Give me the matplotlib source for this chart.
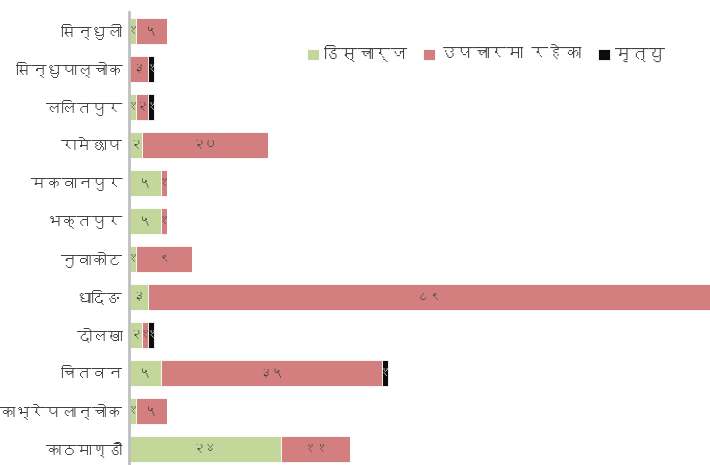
import matplotlib
matplotlib.use('Agg')
import matplotlib.pyplot as plt
from matplotlib import font_manager
from matplotlib.ft2font import FT2Font
import numpy as np

districts = ['सिन्धुली', 'सिन्धुपाल्चोक', 'ललितपुर', 'रामेछाप', 'मकवानपुर', 'भक्तपुर',
             'नुवाकोट', 'धादिङ', 'दोलखा', 'चितवन', 'काभ्रेपलान्चोक', 'काठमाण्डौ']
discharged = [1, 0, 1, 2, 5, 5, 1, 3, 2, 5, 1, 24]
in_treatment = [5, 3, 2, 20, 1, 1, 9, 89, 1, 35, 5, 11]
deaths = [0, 1, 1, 0, 0, 0, 0, 0, 1, 1, 0, 0]
series_names = ['डिस्चार्ज', 'उपचारमा रहेका', 'मृत्यु']
colors = ['#c4d79b', '#d47f7f', '#0d0d0d']
nepali_digits = '०१२३४५६७८९'


def to_nepali(n):
    return ''.join(nepali_digits[int(c)] for c in str(n))


# find an installed font that has Devanagari glyphs
deva = None
for f in font_manager.fontManager.ttflist:
    try:
        if 0x0915 in FT2Font(f.fname).get_charmap():
            deva = f.name
            break
    except Exception:
        pass
families = ([deva] if deva else []) + ['DejaVu Sans']
plt.rcParams['font.family'] = families

fig = plt.figure(figsize=(7.1, 4.65), dpi=100)
ax = fig.add_axes([0.182, 0.0, 0.818, 0.974])

y = np.arange(len(districts))
left = np.zeros(len(districts))
for vals, name, col in zip([discharged, in_treatment, deaths], series_names, colors):
    vals = np.array(vals)
    ax.barh(y, vals, left=left, height=0.68, color=col, edgecolor='white',
            linewidth=0.6, label=name)
    for yi, v, l in zip(y, vals, left):
        if v > 0:
            ax.text(l + v / 2, yi, to_nepali(v), ha='center', va='center', fontsize=9,
                    color='white' if col == '#0d0d0d' else '#404040')
    left = left + vals

ax.set_xlim(0, 92)
ax.set_ylim(11.42, -0.5)
ax.set_yticks(y)
ax.set_yticklabels(districts, fontsize=11, color='#404040')
ax.set_xticks([])
ax.tick_params(axis='y', length=0, pad=5)
for s in ['top', 'right', 'bottom']:
    ax.spines[s].set_visible(False)
ax.spines['left'].set_color('#bfbfbf')
ax.spines['left'].set_linewidth(2)

leg = ax.legend(loc='upper left', bbox_to_anchor=(0.28, 0.96), ncol=3, frameon=False,
                fontsize=12, handlelength=0.7, handleheight=0.7, handletextpad=0.3,
                columnspacing=1.0)
for t in leg.get_texts():
    t.set_color('#404040')

fig.savefig('out.png', dpi=100)
